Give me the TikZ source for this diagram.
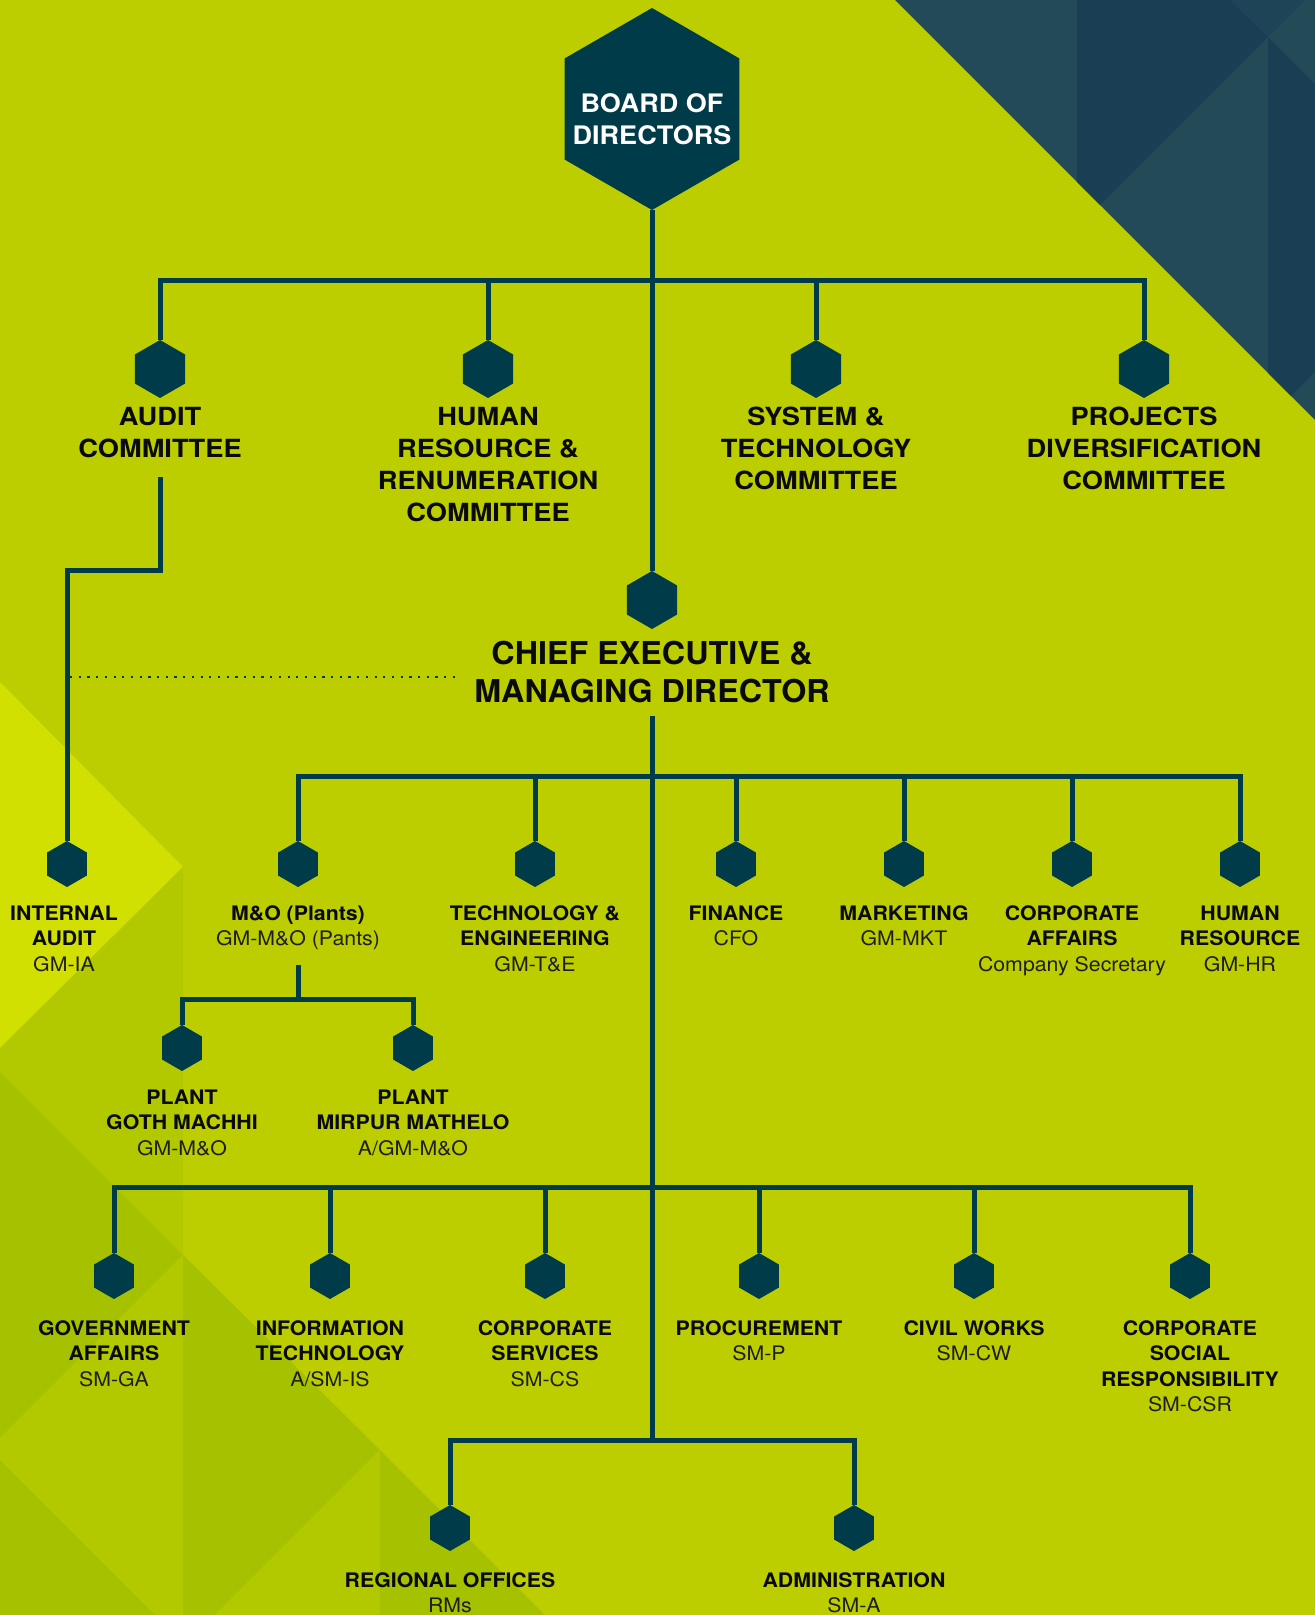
\documentclass[tikz,border=0pt]{standalone}
\usepackage{fontspec}
\setmainfont{TeX Gyre Heros}
\newfontfamily\fA{TeX Gyre Heros}[FakeStretch=1.09]
\newfontfamily\fB{TeX Gyre Heros}[FakeStretch=1.065]
\newfontfamily\fC{TeX Gyre Heros}[FakeStretch=1.025]
\newfontfamily\fD{TeX Gyre Heros}[FakeStretch=1.06]
\usetikzlibrary{shapes.geometric}
\definecolor{bg}{RGB}{188,206,0}
\definecolor{navy}{RGB}{0,59,74}
\definecolor{tealA}{RGB}{34,75,87}
\definecolor{tealB}{RGB}{26,63,84}
\definecolor{tealC}{RGB}{30,69,87}
\definecolor{ylight}{RGB}{209,224,0}
\definecolor{gmid}{RGB}{178,201,0}
\definecolor{gdark}{RGB}{166,193,0}
\definecolor{ink}{RGB}{10,10,10}
\definecolor{inklt}{RGB}{30,30,30}
\newcommand{\tb}[1]{\begin{tabular}[t]{@{}c@{}}#1\end{tabular}}
\newcommand{\lt}{\mdseries\color{inklt}}
\begin{document}
\begin{tikzpicture}[x=1pt,y=-1pt,
  hexbase/.style={regular polygon, regular polygon sides=6, shape border rotate=30, fill=navy, draw=none, inner sep=0pt, outer sep=0pt},
  hexbig/.style={hexbase, minimum size=202pt},
  hexmid/.style={hexbase, minimum size=58pt},
  hexsm/.style={hexbase, minimum size=46pt},
  conn/.style={draw=navy, line width=5pt},
  dotline/.style={draw=navy, line width=2.2pt, dash pattern=on 2.2pt off 6.5pt},
  lbl/.style={anchor=base, inner sep=0pt, outer sep=0pt, text=ink},
  tzero/.style={lbl, font=\fC\bfseries\fontsize{31.5}{38}\selectfont},
  tone/.style={lbl, font=\fA\bfseries\fontsize{25}{32}\selectfont},
  ttwo/.style={lbl, font=\fB\bfseries\fontsize{20}{25.5}\selectfont},
  tboard/.style={lbl, text=white, font=\fD\bfseries\fontsize{25.5}{32}\selectfont}]
\useasboundingbox (0,0) rectangle (1315,1615);
% background
\fill[bg] (0,0) rectangle (1315,1615);
% top-right facets
\fill[tealA] (895,0) -- (1315,0) -- (1315,420) -- cycle;
\fill[tealB] (1077,0) -- (1077,182) -- (1100,205) -- (1268,37) -- (1230,0) -- cycle;
\fill[tealC] (1230,0) -- (1305,0) -- (1268,37) -- cycle;
\fill[tealB] (1268,37) -- (1315,84) -- (1315,372) -- (1291,396) -- (1268,373) -- cycle;
% bottom-left facets
\fill[ylight] (0,682) -- (183,867) -- (0,1048) -- cycle;
\fill[gmid] (0,1048) -- (183,867) -- (183,1255) -- (0,1072) -- cycle;
\fill[gdark] (0,1072) -- (183,1255) -- (0,1438) -- cycle;
\fill[gmid] (0,1438) -- (183,1255) -- (183,1615) -- (155,1615) -- (0,1460) -- cycle;
\fill[gdark] (0,1460) -- (155,1615) -- (0,1615) -- cycle;
\fill[gdark] (183,1255) -- (380,1450) -- (215,1615) -- (183,1615) -- cycle;
\fill[gmid] (215,1615) -- (380,1450) -- (380,1615) -- cycle;
\fill[gdark] (380,1450) -- (545,1615) -- (380,1615) -- cycle;

% hexagons
\node[hexbig] (board) at (652,109) {};
\node[hexmid] (hAud) at (160,369) {};
\node[hexmid] (hHRC) at (488,369) {};
\node[hexmid] (hSTC) at (816,369) {};
\node[hexmid] (hPDC) at (1144,369) {};
\node[hexmid] (ceo) at (652,600) {};
\node[hexsm] (hIA) at (67,864) {};
\node[hexsm] (hMO) at (298,864) {};
\node[hexsm] (hTE) at (535,864) {};
\node[hexsm] (hFIN) at (736,864) {};
\node[hexsm] (hMKT) at (904,864) {};
\node[hexsm] (hCA) at (1072,864) {};
\node[hexsm] (hHR) at (1240,864) {};
\node[hexsm] (hPG) at (182,1048) {};
\node[hexsm] (hPM) at (413,1048) {};
\node[hexsm] (hGA) at (114,1276) {};
\node[hexsm] (hIT) at (330,1276) {};
\node[hexsm] (hCS) at (545,1276) {};
\node[hexsm] (hPR) at (759,1276) {};
\node[hexsm] (hCW) at (974,1276) {};
\node[hexsm] (hCSR) at (1190,1276) {};
\node[hexsm] (hRO) at (450,1528) {};
\node[hexsm] (hAD) at (854,1528) {};

% junctions
\coordinate (j1) at (652,280);
\coordinate (aStart) at (160,477);
\coordinate (aBend) at (67,570);
\coordinate (dotL) at (70,677);
\coordinate (dotR) at (458,677);
\coordinate (ceoLine) at (652,716);
\coordinate (j2) at (652,776);
\coordinate (j3) at (652,1187);
\coordinate (j4) at (652,1440);
\coordinate (moLine) at (298,965);
\coordinate (j5) at (298,999);

% connectors
\draw[conn] (board.270) -- (ceo.90);
\draw[conn] (hAud.90) |- (j1) -| (hPDC.90);
\draw[conn] (hHRC.90) -- (hHRC.90 |- j1);
\draw[conn] (hSTC.90) -- (hSTC.90 |- j1);
\draw[conn] (aStart) |- (aBend) -- (hIA.90);
\draw[dotline] (dotL) -- (dotR);
\draw[conn] (ceoLine) -- (j4);
\draw[conn] (hMO.90) |- (j2) -| (hHR.90);
\draw[conn] (hTE.90) -- (hTE.90 |- j2);
\draw[conn] (hFIN.90) -- (hFIN.90 |- j2);
\draw[conn] (hMKT.90) -- (hMKT.90 |- j2);
\draw[conn] (hCA.90) -- (hCA.90 |- j2);
\draw[conn] (moLine) -- (j5);
\draw[conn] (hPG.90) |- (j5) -| (hPM.90);
\draw[conn] (hGA.90) |- (j3) -| (hCSR.90);
\draw[conn] (hIT.90) -- (hIT.90 |- j3);
\draw[conn] (hCS.90) -- (hCS.90 |- j3);
\draw[conn] (hPR.90) -- (hPR.90 |- j3);
\draw[conn] (hCW.90) -- (hCW.90 |- j3);
\draw[conn] (hRO.90) |- (j4) -| (hAD.90);

% texts
\node[tboard] (tBoard) at (652,112) {\tb{BOARD OF\\DIRECTORS}};
\node[tone] (tAud) at (160,425) {\tb{AUDIT\\COMMITTEE}};
\node[tone] (tHRC) at (488,425) {\tb{HUMAN\\RESOURCE \&\\RENUMERATION\\COMMITTEE}};
\node[tone] (tSTC) at (816,425) {\tb{SYSTEM \&\\TECHNOLOGY\\COMMITTEE}};
\node[tone] (tPDC) at (1144,425) {\tb{PROJECTS\\DIVERSIFICATION\\COMMITTEE}};
\node[tzero] (tCEO) at (652,664) {\tb{CHIEF EXECUTIVE \&\\MANAGING DIRECTOR}};

\node[ttwo] (tIA) at (64,920) {\tb{INTERNAL\\AUDIT\\\lt GM-IA}};
\node[ttwo] (tMO) at (298,920) {\tb{M\&O (Plants)\\\lt GM-M\&O (Pants)}};
\node[ttwo] (tTE) at (535,920) {\tb{TECHNOLOGY \&\\ENGINEERING\\\lt GM-T\&E}};
\node[ttwo] (tFIN) at (736,920) {\tb{FINANCE\\\lt CFO}};
\node[ttwo] (tMKT) at (904,920) {\tb{MARKETING\\\lt GM-MKT}};
\node[ttwo] (tCA) at (1072,920) {\tb{CORPORATE\\AFFAIRS\\\lt Company Secretary}};
\node[ttwo] (tHR) at (1240,920) {\tb{HUMAN\\RESOURCE\\\lt GM-HR}};

\node[ttwo] (tPG) at (182,1104) {\tb{PLANT\\GOTH MACHHI\\\lt GM-M\&O}};
\node[ttwo] (tPM) at (413,1104) {\tb{PLANT\\MIRPUR MATHELO\\\lt A/GM-M\&O}};

\node[ttwo] (tGA) at (114,1335) {\tb{GOVERNMENT\\AFFAIRS\\\lt SM-GA}};
\node[ttwo] (tIT) at (330,1335) {\tb{INFORMATION\\TECHNOLOGY\\\lt A/SM-IS}};
\node[ttwo] (tCS) at (545,1335) {\tb{CORPORATE\\SERVICES\\\lt SM-CS}};
\node[ttwo] (tPR) at (759,1335) {\tb{PROCUREMENT\\\lt SM-P}};
\node[ttwo] (tCW) at (974,1335) {\tb{CIVIL WORKS\\\lt SM-CW}};
\node[ttwo] (tCSR) at (1190,1335) {\tb{CORPORATE\\SOCIAL\\RESPONSIBILITY\\\lt SM-CSR}};

\node[ttwo] (tRO) at (450,1587) {\tb{REGIONAL OFFICES\\\lt RMs}};
\node[ttwo] (tAD) at (854,1587) {\tb{ADMINISTRATION\\\lt SM-A}};
\end{tikzpicture}
\end{document}
